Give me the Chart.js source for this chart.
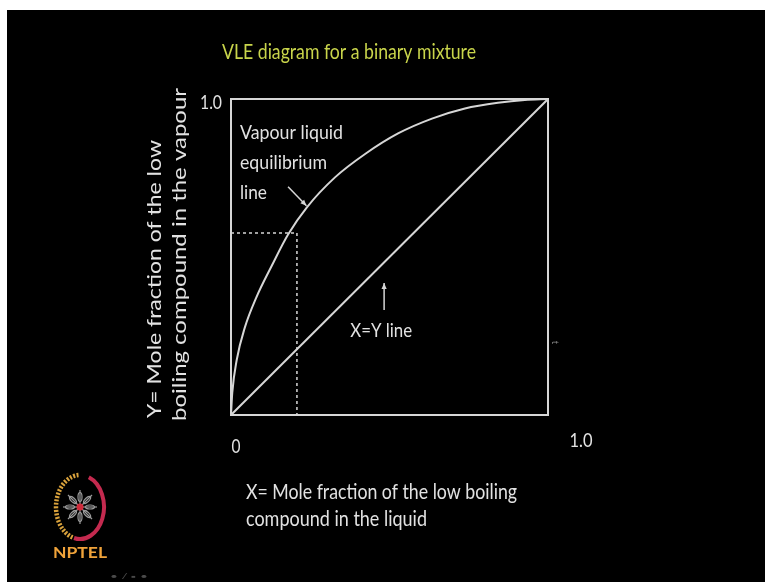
<!DOCTYPE html>
<html><head><meta charset="utf-8">
<script src="https://cdn.jsdelivr.net/npm/chart.js@4.4.0/dist/chart.umd.min.js"></script>
<style>
html,body{margin:0;padding:0;background:#fff;width:765px;height:582px;overflow:hidden;}
#wrap{position:absolute;left:7px;top:10px;width:758px;height:572px;background:#000;}
canvas{display:block;}
</style></head><body>
<div id="wrap"><canvas id="c" width="758" height="572"></canvas></div>
<script>
// ---- data ----
const titleText = 'VLE diagram for a binary mixture';
const xTitleLines = ['X= Mole fraction of the low boiling', 'compound in the liquid'];
const yTitleLines = ['Y= Mole fraction of the low', 'boiling compound in the vapour'];
const xTickValues = [0, 1];
const xTickLabels = ['0', '1.0'];
const yTickValues = [1];
const yTickLabels = ['1.0'];
const vleX = [0, 0.004, 0.018, 0.044, 0.079, 0.129, 0.180, 0.240, 0.328, 0.423, 0.527, 0.634, 0.738, 0.842, 0.927, 1.0];
const vleY = [0, 0.070, 0.174, 0.278, 0.370, 0.473, 0.571, 0.658, 0.752, 0.826, 0.891, 0.938, 0.970, 0.988, 0.997, 1.0];
const diagX = [0, 1];
const diagY = [0, 1];
const guideX = [0, 0.208, 0.208];
const guideY = [0.576, 0.576, -0.01];
const vleLabel = ['Vapour liquid', 'equilibrium', 'line'];
const diagLabel = 'X=Y line';

const zip = (xs, ys) => xs.map((x, i) => ({x, y: ys[i]}));
const LINE = '#d6d6d6';
const TEXT = '#e2e2e2';
const FONT = "Lato, 'Open Sans', sans-serif";

function fitText(ctx, text, x, y, size, width, color, opts) {
  opts = opts || {};
  ctx.save();
  ctx.font = (opts.weight || 'normal') + ' ' + size + 'px ' + FONT;
  ctx.fillStyle = color;
  ctx.textBaseline = 'middle';
  ctx.textAlign = 'left';
  const w = ctx.measureText(text).width;
  const sx = width ? width / w : 1;
  ctx.translate(x, y);
  if (opts.rotate) ctx.rotate(opts.rotate);
  ctx.scale(sx, 1);
  ctx.fillText(text, 0, 0);
  ctx.restore();
}

function arrow(ctx, x1, y1, x2, y2) {
  ctx.save();
  ctx.strokeStyle = LINE; ctx.fillStyle = LINE; ctx.lineWidth = 1.5;
  ctx.beginPath(); ctx.moveTo(x1, y1); ctx.lineTo(x2, y2); ctx.stroke();
  const a = Math.atan2(y2 - y1, x2 - x1), L = 6, W = 2.6;
  ctx.beginPath();
  ctx.moveTo(x2, y2);
  ctx.lineTo(x2 - L * Math.cos(a) + W * Math.sin(a), y2 - L * Math.sin(a) - W * Math.cos(a));
  ctx.lineTo(x2 - L * Math.cos(a) - W * Math.sin(a), y2 - L * Math.sin(a) + W * Math.cos(a));
  ctx.closePath(); ctx.fill();
  ctx.restore();
}

const decor = {
  id: 'decor',
  afterDatasetsDraw(chart) {
    const {ctx, chartArea: ca} = chart;
    ctx.save();
    ctx.strokeStyle = LINE; ctx.lineWidth = 2;
    ctx.strokeRect(ca.left, ca.top, ca.right - ca.left, ca.bottom - ca.top);
    ctx.restore();
  },
  afterDraw(chart) {
    const {ctx, chartArea: ca} = chart;
    const xs = chart.scales.x, ys = chart.scales.y;
    // title
    fitText(ctx, titleText, ca.left - 9, 42, 21, 254, '#c9d54b');
    // tick labels
    const xTickOff = [[5, 32], [33, 26]];
    const xTickW = [9, 23];
    xTickValues.forEach((v, i) => {
      fitText(ctx, xTickLabels[i], xs.getPixelForValue(v) + xTickOff[i][0] - xTickW[i] / 2, ca.bottom + xTickOff[i][1], 20, xTickW[i], TEXT);
    });
    yTickValues.forEach((v, i) => {
      fitText(ctx, yTickLabels[i], ca.left - 31, ys.getPixelForValue(v) + 4, 20, 22, TEXT);
    });
    // axis titles
    fitText(ctx, xTitleLines[0], ca.left + 15, ca.bottom + 77, 21, 271, TEXT);
    fitText(ctx, xTitleLines[1], ca.left + 15, ca.bottom + 104, 21, 181, TEXT);
    fitText(ctx, yTitleLines[0], ca.left - 76, ca.bottom + 3, 20, 278, TEXT, {rotate: -Math.PI / 2});
    fitText(ctx, yTitleLines[1], ca.left - 51, ca.bottom + 6, 20, 333, TEXT, {rotate: -Math.PI / 2});
    // annotations
    const vw = [103, 87, 27];
    vleLabel.forEach((s, i) => fitText(ctx, s, ca.left + 9, ca.top + 34 + i * 30, 19, vw[i], TEXT));
    arrow(ctx, xs.getPixelForValue(0.18), ys.getPixelForValue(0.722), xs.getPixelForValue(0.238), ys.getPixelForValue(0.662));
    fitText(ctx, diagLabel, xs.getPixelForValue(0.376), ys.getPixelForValue(0.267), 19, 62, TEXT);
    arrow(ctx, xs.getPixelForValue(0.483), ys.getPixelForValue(0.332), xs.getPixelForValue(0.483), ys.getPixelForValue(0.418));
    fitText(ctx, 't', ca.right + 7, ys.getPixelForValue(0.235), 9, 0, '#8a8a8a', {rotate: Math.PI / 2});
    // NPTEL logo
    const cx = 73, cy = 497;
    ctx.save();
    ctx.lineWidth = 4.5;
    ctx.setLineDash([2, 1.5]);
    ctx.strokeStyle = '#d9a23c';
    ctx.beginPath(); ctx.ellipse(cx, cy, 24, 32, 0, Math.PI * 0.6, Math.PI * 1.48); ctx.stroke();
    ctx.setLineDash([]);
    ctx.strokeStyle = '#c42a4f';
    ctx.lineWidth = 4;
    ctx.beginPath(); ctx.ellipse(cx, cy, 24, 32, 0, -Math.PI * 0.38, Math.PI * 0.58); ctx.stroke();
    ctx.strokeStyle = '#9a9a9a'; ctx.lineWidth = 1.2;
    for (let k = 0; k < 8; k++) {
      const a = k * Math.PI / 4;
      ctx.beginPath();
      ctx.moveTo(cx, cy);
      ctx.lineTo(cx + 17 * Math.cos(a), cy + 17 * Math.sin(a));
      ctx.stroke();
      ctx.beginPath();
      ctx.ellipse(cx + 10 * Math.cos(a), cy + 10 * Math.sin(a), 4.5, 2, a, 0, Math.PI * 2);
      ctx.stroke();
    }
    ctx.fillStyle = '#d02a3a';
    ctx.beginPath(); ctx.arc(cx, cy, 3.5, 0, Math.PI * 2); ctx.fill();
    ctx.restore();
    fitText(ctx, 'NPTEL', 46, 543, 16, 54, '#f0a33a', {weight: 'bold'});
    fitText(ctx, '• / ▪ •', 103, 567, 7, 38, '#4a4a4a');
  }
};

new Chart(document.getElementById('c'), {
  type: 'line',
  data: {
    datasets: [
      {data: zip(vleX, vleY), borderColor: LINE, borderWidth: 2, pointRadius: 0, cubicInterpolationMode: 'monotone', fill: false},
      {data: zip(diagX, diagY), borderColor: LINE, borderWidth: 2, pointRadius: 0, tension: 0, fill: false},
      {data: zip(guideX, guideY), borderColor: LINE, borderWidth: 1.5, borderDash: [3, 3], pointRadius: 0, tension: 0, fill: false, clip: 10}
    ]
  },
  options: {
    responsive: false,
    animation: false,
    layout: {padding: {left: 224, top: 89, right: 217, bottom: 167}},
    plugins: {legend: {display: false}, tooltip: {enabled: false}, title: {display: false}},
    scales: {
      x: {type: 'linear', min: 0, max: 1, display: false},
      y: {type: 'linear', min: 0, max: 1, display: false}
    }
  },
  plugins: [decor]
});
</script>
</body></html>
